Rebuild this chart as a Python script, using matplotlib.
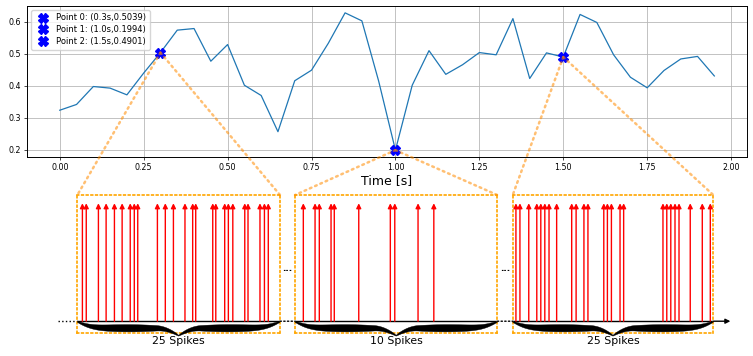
import numpy as np
import matplotlib
matplotlib.use('Agg')
import matplotlib.pyplot as plt
from matplotlib.patches import ConnectionPatch, Polygon

###### DATA ##########
# signal sampled every 50 ms
signal = [0.324, 0.342, 0.398, 0.393, 0.372, 0.440, 0.5039, 0.574, 0.579, 0.477,
          0.529, 0.402, 0.370, 0.257, 0.416, 0.449, 0.533, 0.628, 0.603, 0.415,
          0.1994, 0.402, 0.510, 0.436, 0.466, 0.504, 0.497, 0.610, 0.423, 0.503,
          0.4901, 0.623, 0.598, 0.497, 0.427, 0.394, 0.448, 0.484, 0.492, 0.431]
dt = 0.05

point_times = [0.3, 1.0, 1.5]
point_values = [0.5039, 0.1994, 0.4901]

# spike times (ms) inside a 100 ms window for each selected point
spikes_0 = [2.5, 4.4, 10.4, 14.2, 18.3, 22.1, 26.1, 28.1, 29.8, 39.5, 43.4, 47.4, 53.1,
            56.9, 58.4, 66.8, 68.3, 72.7, 74.5, 76.7, 82.6, 84.2, 90.1, 92.3, 94.2]
spikes_1 = [4.1, 9.9, 12.0, 17.8, 19.4, 31.5, 47.1, 49.3, 60.8, 68.6]
spikes_2 = [1.6, 3.6, 8.0, 12.0, 14.0, 16.0, 18.1, 21.9, 29.4, 31.6, 35.5, 37.5, 45.4,
            47.2, 49.2, 53.5, 55.3, 74.9, 76.8, 78.8, 80.9, 82.9, 88.5, 94.5, 98.5]
spike_trains = [spikes_0, spikes_1, spikes_2]
window_ms = 100
#######################

plt.rcParams['font.family'] = 'DejaVu Sans'

fig = plt.figure(figsize=(7.53, 3.56), dpi=100)

# top: signal
ax = fig.add_axes([0.0359, 0.559, 0.9562, 0.4242])
t = np.arange(len(signal)) * dt
ax.plot(t, signal, color='tab:blue', lw=0.9, zorder=2)
for i, (pt, pv) in enumerate(zip(point_times, point_values)):
    ax.plot(pt, pv, 'X', color='blue', ms=6.5, ls='none', zorder=3,
            label='Point {}: ({}s,{})'.format(i, pt, pv))
ax.grid(True, color='#b8b8b8', lw=0.6)
ax.tick_params(labelsize=5.7, length=2, width=0.5, pad=2)
for s in ax.spines.values():
    s.set_linewidth(0.7)
ax.set_xlabel('Time [s]', fontsize=9, labelpad=2)
ax.legend(loc='upper left', fontsize=6, handletextpad=0.6, borderpad=0.4,
          labelspacing=0.35, framealpha=0.8, markerscale=1.1)

# bottom: spike trains
lefts = [0.1027, 0.3918, 0.6809]
widths = [0.2692, 0.2687, 0.2664]
panels = []
for k in range(3):
    p = fig.add_axes([lefts[k], 0.0646, widths[k], 0.3876])
    p.set_xlim(0, window_ms)
    p.set_ylim(-0.1, 1.07)
    p.set_xticks([])
    p.set_yticks([])
    p.patch.set_alpha(0)
    for s in p.spines.values():
        s.set_linestyle((0, (1, 1.8)))
        s.set_color('orange')
        s.set_linewidth(1.2)
    p.axhline(0, color='black', lw=1.0, zorder=2)
    for st in spike_trains[k]:
        p.annotate('', xy=(st, 1.0), xytext=(st, 0),
                   arrowprops=dict(arrowstyle='-|>', color='red', lw=1.0,
                                   mutation_scale=7, shrinkA=0, shrinkB=0))
    panels.append(p)


def brace(p, x0, x1, y, d_mid, d_tip, w_max):
    # curly brace pointing down, drawn in data coords of p
    s = np.linspace(0, 1, 200)
    c = d_mid * np.tanh(s / 0.15) + (d_tip - d_mid) * np.clip((s - 0.78) / 0.22, 0, 1) ** 2
    w = w_max * np.sin(np.pi * s) ** 0.7 + 0.006
    half = (x1 - x0) / 2.0
    xl = x0 + s * half
    xr = x1 - s * half
    xs = np.concatenate([xl, xr[::-1], xr, xl[::-1]])
    up = y - c + w / 2
    lo = y - c - w / 2
    ys = np.concatenate([up, up[::-1], lo, lo[::-1]])
    poly = Polygon(np.column_stack([xs, ys]), closed=True, color='black', lw=0.3,
                   clip_on=False, zorder=4)
    p.add_patch(poly)


for k, p in enumerate(panels):
    brace(p, 0, window_ms, -0.005, 0.055, 0.118, 0.055)
    p.text(window_ms / 2, -0.128, '{} Spikes'.format(len(spike_trains[k])),
           ha='center', va='top', fontsize=7.8)

# dotted baseline between / before the panels, arrow at the end
panels[0].plot([-0.095 * window_ms, 0], [0, 0], ls=':', color='black', lw=1.0, clip_on=False)
for a, b in zip(panels[:-1], panels[1:]):
    fig.add_artist(ConnectionPatch(xyA=(window_ms, 0), coordsA=a.transData,
                                   xyB=(0, 0), coordsB=b.transData,
                                   ls=':', color='black', lw=1.0))
    xa = a.transAxes.transform((1, 0.45))[0]
    xb = b.transAxes.transform((0, 0.45))[0]
    xm, ym = fig.transFigure.inverted().transform(((xa + xb) / 2, a.transAxes.transform((0, 0.45))[1]))
    fig.text(xm, ym, '...', ha='center', va='baseline', fontsize=6.5, fontweight='bold')
panels[-1].annotate('', xy=(1.085 * window_ms, 0), xytext=(window_ms, 0),
                    arrowprops=dict(arrowstyle='-|>', color='black', lw=1.0,
                                    mutation_scale=7, shrinkA=0, shrinkB=0),
                    annotation_clip=False)

# zoom connectors from the points to the boxes
for (pt, pv), p in zip(zip(point_times, point_values), panels):
    for corner in [(0, 1), (1, 1)]:
        con = ConnectionPatch(xyA=(pt, pv), coordsA=ax.transData,
                              xyB=corner, coordsB=p.transAxes,
                              ls=(0, (0.7, 1.6)), color='darkorange', alpha=0.55, lw=1.8,
                              capstyle='round')
        fig.add_artist(con)

fig.savefig('out.png', dpi=100)
